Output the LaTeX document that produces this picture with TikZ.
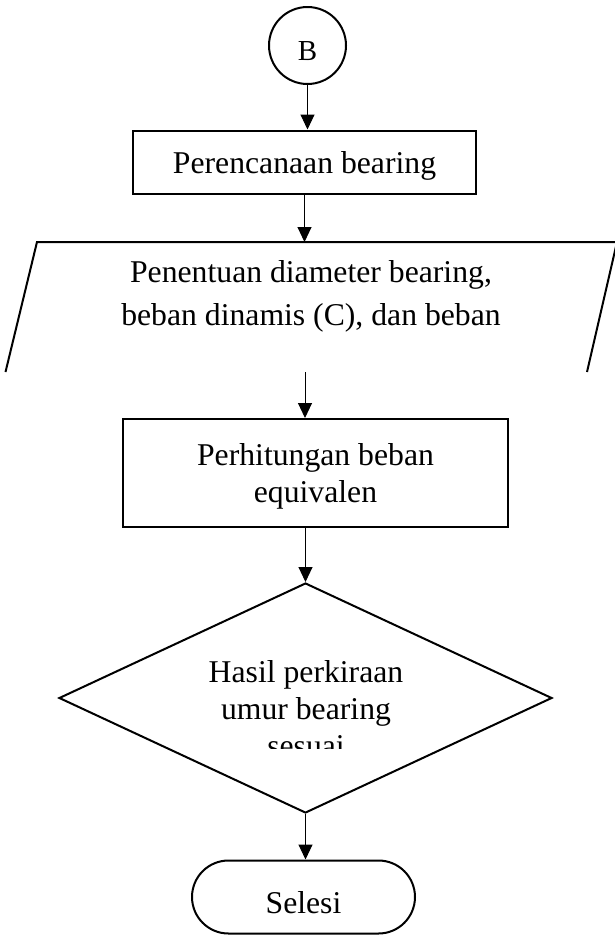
\documentclass[tikz,border=0pt]{standalone}
\usepackage{fontspec}
\setmainfont{Liberation Serif}
\usetikzlibrary{arrows.meta,shapes.geometric,shapes.misc,positioning,calc}
\tikzset{every picture/.style={line width=1pt}}
\tikzset{
  flowtext/.style={font=\fontsize{31.7}{36.5}\selectfont, align=center, inner sep=0pt, text depth=0pt},
  shapeline/.style={draw, line width=2pt},
  connector/.style={draw, line width=1pt, -{Triangle[length=15pt,width=14pt]}},
  processbox/.style={flowtext, shapeline, rectangle},
  decisionbox/.style={shapeline, diamond, inner sep=0pt, aspect=2.14},
  terminalbox/.style={flowtext, shapeline, rounded rectangle},
  pagelink/.style={shapeline, circle, inner sep=0pt, font=\fontsize{29}{34}\selectfont}
}

\begin{document}
\begin{tikzpicture}[x=1pt,y=-1pt]
    \useasboundingbox (0,0) rectangle (614,935);
    % Off-page connector
    \node[pagelink, minimum size=77pt, text height=30pt, text depth=0pt] (B) at (307.5,45.5) {B};
    % Process
    \node[processbox, minimum width=343pt, minimum height=63pt] (plan) at (304.5,162) {Perencanaan bearing};
    % Input (bottom edge not shown)
    \coordinate (inputtop) at (305,242);
    \coordinate (inputbottom) at (305,372);
    \draw[line width=2pt] (5.5,372) -- (37,242) -- (617,242) -- (587,372);
    \node[flowtext, font=\fontsize{31.7}{43}\selectfont] (input) at (311,292.7) {Penentuan diameter bearing,\\beban dinamis (C), dan beban};
    % Process
    \node[processbox, minimum width=385pt, minimum height=108pt] (calc) at (315.5,473) {Perhitungan beban\\equivalen};
    % Decision
    \node[decisionbox, minimum width=493pt, minimum height=230pt] (decision) at (305.5,698) {};
    \begin{scope}
        \clip (60,583) rectangle (552,748);
        \node[flowtext, font=\fontsize{31.7}{37}\selectfont] (decisiontext) at (306,708.2) {Hasil perkiraan\\umur bearing\\sesuai};
    \end{scope}
    % End
    \node[terminalbox, minimum width=223pt, minimum height=73pt, text height=33pt] (finish) at (303.5,897) {Selesi};
    % Arrows
    \draw[connector] (B.south) -- (B.south |- plan.north);
    \draw[connector] (plan.south) -- (plan.south |- inputtop);
    \draw[connector] (inputbottom) -- (inputbottom |- calc.north);
    \draw[connector] (decision.north |- calc.south) -- (decision.north);
    \draw[connector] (decision.south) -- (decision.south |- finish.north);
\end{tikzpicture}
\end{document}
